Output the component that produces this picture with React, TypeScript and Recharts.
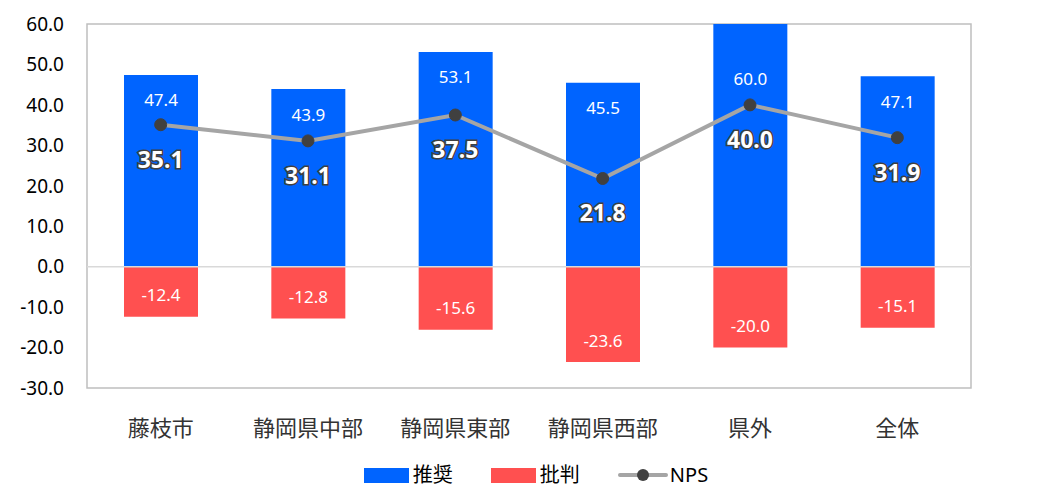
import {
  Bar,
  ComposedChart,
  LabelList,
  Legend,
  Line,
  ReferenceArea,
  ReferenceLine,
  XAxis,
  YAxis,
} from "recharts";

const categories = ["藤枝市", "静岡県中部", "静岡県東部", "静岡県西部", "県外", "全体"];
const promoters = [47.4, 43.9, 53.1, 45.5, 60.0, 47.1];
const detractors = [-12.4, -12.8, -15.6, -23.6, -20.0, -15.1];
const nps = [35.1, 31.1, 37.5, 21.8, 40.0, 31.9];
const ticks = [-30, -20, -10, 0, 10, 20, 30, 40, 50, 60];

const BLUE = "#0064FF";
const RED = "#FF5050";
const FONT = "'Noto Sans', 'Noto Sans CJK JP', sans-serif";

const data = categories.map((name, i) => ({
  name,
  推奨: promoters[i],
  批判: detractors[i],
  NPS: nps[i],
}));

const BarTopLabel = (props: any) => {
  const { x, y, width, height, value } = props;
  const top = Math.min(y, y + height);
  const shift = value >= 60 ? 54 : 25;
  return (
    <text x={x + width / 2} y={top + shift} textAnchor="middle" dominantBaseline="central"
      fill="#fff" fontSize={17} fontFamily={FONT}>
      {Number(value).toFixed(1)}
    </text>
  );
};

const BarBottomLabel = (props: any) => {
  const { x, y, width, height, value } = props;
  const bottom = Math.max(y, y + height);
  return (
    <text x={x + width / 2} y={bottom - 22} textAnchor="middle" dominantBaseline="central"
      fill="#fff" fontSize={17} fontFamily={FONT}>
      {Number(value).toFixed(1)}
    </text>
  );
};

const NpsLabel = (props: any) => {
  const { x, y, value } = props;
  return (
    <text x={x} y={y + 34} textAnchor="middle" dominantBaseline="central"
      fill="#fff" stroke="#404040" strokeWidth={3} paintOrder="stroke"
      fontSize={23} fontWeight="bold" fontFamily={FONT}>
      {Number(value).toFixed(1)}
    </text>
  );
};

const RightTick = (props: any) => {
  const { x, y, payload } = props;
  const v = payload.value;
  return (
    <text x={x} y={y} dy="0.35em" textAnchor="start" fontSize={19} fontFamily={FONT}
      fill={v < 0 ? "#FF0000" : "#000"}>
      {Number(v).toFixed(1)}
    </text>
  );
};

const renderLegend = () => (
  <div style={{ display: "flex", justifyContent: "center", alignItems: "center",
    fontFamily: FONT, fontSize: 20, lineHeight: "24px", color: "#000", gap: 38,
    paddingTop: 15, paddingLeft: 16 }}>
    <span style={{ display: "flex", alignItems: "center" }}>
      <span style={{ width: 45, height: 15, background: BLUE, marginRight: 4 }} />推奨
    </span>
    <span style={{ display: "flex", alignItems: "center" }}>
      <span style={{ width: 45, height: 15, background: RED, marginRight: 4 }} />批判
    </span>
    <span style={{ display: "flex", alignItems: "center" }}>
      <svg width={50} height={16} style={{ marginRight: 2 }}>
        <line x1={2} y1={8} x2={48} y2={8} stroke="#A5A5A5" strokeWidth={4} strokeLinecap="round" />
        <circle cx={25} cy={8} r={6} fill="#404040" />
      </svg>NPS
    </span>
  </div>
);

export default function App() {
  return (
    <ComposedChart width={1040} height={485} data={data} stackOffset="sign"
      margin={{ top: 16, right: 0, bottom: 0, left: 0 }}>
      <ReferenceArea yAxisId="left" y1={-30} y2={60} fill="none" stroke="#BFBFBF" strokeWidth={1.5} />
      <XAxis dataKey="name" axisLine={false} tickLine={false} height={60} tickMargin={26}
        tick={{ fontSize: 22, fill: "#333", fontFamily: FONT }} />
      <YAxis yAxisId="left" domain={[-30, 60]} ticks={ticks} axisLine={false} tickLine={false}
        width={79} tickMargin={17} interval={0} tickFormatter={(v: number) => v.toFixed(1)}
        tick={{ fontSize: 19, fill: "#000", fontFamily: FONT }} />
      <YAxis yAxisId="right" orientation="right" domain={[-30, 60]} ticks={ticks}
        axisLine={false} tickLine={false} width={77} tickMargin={16} interval={0}
        tick={<RightTick />} />
      <ReferenceLine yAxisId="left" y={0} stroke="#D9D9D9" strokeWidth={1.5} />
      <Legend verticalAlign="bottom" height={45} content={renderLegend} />
      <Bar yAxisId="left" dataKey="推奨" stackId="a" fill={BLUE} barSize={74} isAnimationActive={false}>
        <LabelList dataKey="推奨" content={<BarTopLabel />} />
      </Bar>
      <Bar yAxisId="left" dataKey="批判" stackId="a" fill={RED} barSize={74} isAnimationActive={false}>
        <LabelList dataKey="批判" content={<BarBottomLabel />} />
      </Bar>
      <Line yAxisId="left" dataKey="NPS" stroke="#A5A5A5" strokeWidth={4}
        dot={{ r: 6, fill: "#404040", stroke: "#404040", strokeWidth: 1 }}
        activeDot={false} isAnimationActive={false}>
        <LabelList dataKey="NPS" content={<NpsLabel />} />
      </Line>
    </ComposedChart>
  );
}
